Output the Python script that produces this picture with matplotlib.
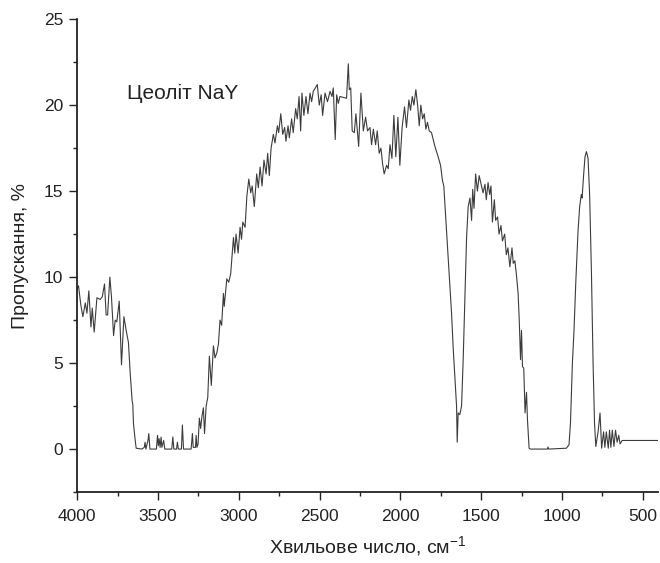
import numpy as np
import matplotlib
matplotlib.use("Agg")
import matplotlib.pyplot as plt
from matplotlib.ticker import MultipleLocator

plt.rcParams['font.family'] = ['Liberation Sans', 'DejaVu Sans']

# IR spectrum: wavenumber (cm-1) and transmittance (%)
wavenumber = [
    4000, 3992, 3978, 3965, 3950, 3940, 3928, 3915, 3907, 3895, 3878, 3858,
    3845, 3831, 3821, 3812, 3798, 3788, 3775, 3765, 3755, 3740, 3726, 3711,
    3697, 3683, 3672, 3660, 3656, 3652, 3641, 3635, 3600, 3585, 3580, 3575,
    3562, 3557, 3550, 3510, 3503, 3498, 3493, 3487, 3481, 3476, 3465, 3458,
    3415, 3408, 3402, 3385, 3380, 3374, 3355, 3349, 3342, 3295, 3287, 3282,
    3268, 3264, 3259, 3252, 3244, 3236, 3228, 3219, 3212, 3202, 3192, 3182,
    3170, 3157, 3147, 3136, 3126, 3116, 3106, 3095, 3090, 3074, 3062, 3050,
    3033, 3025, 3017, 3004, 2992, 2983, 2975, 2961, 2950, 2938, 2926, 2917,
    2904, 2889, 2879, 2868, 2856, 2844, 2831, 2821, 2811, 2800, 2786, 2776,
    2761, 2753, 2740, 2728, 2716, 2708, 2695, 2687, 2673, 2663, 2648, 2638,
    2627, 2617, 2609, 2597, 2584, 2572, 2559, 2549, 2539, 2526, 2514, 2502,
    2490, 2481, 2466, 2451, 2435, 2423, 2415, 2403, 2394, 2384, 2374, 2333,
    2322, 2316, 2307, 2298, 2285, 2275, 2258, 2244, 2229, 2215, 2203, 2188,
    2178, 2167, 2153, 2143, 2131, 2120, 2110, 2100, 2085, 2075, 2064, 2052,
    2040, 2028, 2015, 2003, 1989, 1974, 1962, 1947, 1937, 1926, 1916, 1904,
    1893, 1883, 1873, 1862, 1852, 1842, 1832, 1821, 1807, 1786, 1766, 1751,
    1739, 1731, 1718, 1710, 1693, 1683, 1673, 1661, 1652, 1648, 1642, 1632,
    1621, 1611, 1600, 1590, 1580, 1569, 1559, 1552, 1544, 1534, 1523, 1512,
    1498, 1488, 1476, 1468, 1457, 1447, 1439, 1430, 1418, 1410, 1398, 1389,
    1377, 1368, 1354, 1344, 1334, 1322, 1309, 1301, 1291, 1281, 1271, 1264,
    1256, 1250, 1244, 1236, 1228, 1219, 1213, 1203, 1195, 1090, 1086, 1082,
    972, 956, 947, 935, 925, 914, 900, 890, 880, 875, 865, 857,
    848, 838, 828, 817, 807, 798, 790, 776, 764, 754, 742, 734,
    725, 713, 705, 697, 688, 678, 668, 658, 648, 640, 627, 400,
]
transmittance = [
    9.3, 9.5, 8.4, 7.7, 8.5, 7.9, 9.2, 7.1, 8.2, 6.8, 8.8, 8.7,
    8.85, 9.6, 7.8, 7.8, 10.0, 8.85, 6.6, 7.5, 7.4, 8.6, 4.9, 7.7,
    6.9, 6.2, 4.4, 2.8, 2.6, 1.5, 0.5, 0.05, 0.0, 0.1, 0.4, 0.0,
    0.5, 0.9, 0.0, 0.0, 0.8, 0.2, 0.6, 0.1, 0.7, 0.1, 0.5, 0.0,
    0.0, 0.7, 0.0, 0.0, 0.4, 0.0, 0.0, 1.4, 0.0, 0.0, 0.9, 0.1,
    0.1, 0.8, 0.1, 0.3, 1.8, 1.2, 1.9, 2.4, 0.9, 2.5, 3.0, 5.4,
    3.7, 6.0, 5.3, 5.6, 6.1, 7.5, 7.2, 9.05, 8.3, 9.9, 9.7, 10.2,
    12.3, 11.4, 12.5, 11.4, 12.9, 12.2, 13.2, 12.9, 14.7, 15.7, 14.9, 15.3,
    14.1, 16.0, 15.2, 16.4, 15.3, 16.8, 16.0, 17.2, 15.9, 17.5, 18.3, 17.8,
    18.8, 18.4, 19.5, 18.3, 18.7, 17.9, 18.8, 18.1, 19.2, 18.4, 19.8, 19.2,
    20.5, 18.5, 20.7, 19.4, 20.5, 19.5, 20.7, 20.2, 20.8, 21.0, 21.2, 20.0,
    20.6, 19.4, 20.7, 20.2, 20.8, 20.5, 21.0, 18.0, 20.6, 20.1, 20.5, 20.4,
    22.4, 20.9, 21.0, 18.5, 18.4, 19.5, 17.6, 20.7, 18.5, 19.3, 18.5, 18.7,
    17.7, 18.6, 17.7, 18.5, 17.2, 17.5, 16.6, 16.0, 16.5, 16.3, 17.7, 16.9,
    19.4, 17.0, 19.3, 16.5, 18.7, 19.9, 18.7, 20.3, 19.7, 20.5, 20.0, 20.9,
    20.0, 18.8, 20.0, 19.2, 19.5, 18.6, 19.0, 18.5, 18.4, 17.6, 17.0, 16.5,
    15.6, 15.3, 13.3, 12.0, 9.5, 7.9, 5.9, 4.0, 2.5, 0.4, 2.1, 2.0,
    2.5, 5.2, 8.9, 12.3, 14.1, 14.6, 13.3, 15.1, 14.0, 16.0, 15.0, 15.9,
    15.3, 14.9, 15.4, 14.5, 15.5, 14.8, 15.3, 13.2, 14.5, 13.3, 13.5, 12.5,
    13.0, 12.1, 12.5, 11.3, 11.7, 10.6, 11.7, 10.8, 10.95, 10.1, 9.05, 7.5,
    5.2, 6.9, 4.8, 4.7, 2.1, 3.3, 1.7, 0.05, 0.0, 0.0, 0.12, 0.0,
    0.05, 0.25, 1.5, 5.0, 6.9, 9.7, 12.7, 14.1, 14.8, 14.6, 16.0, 17.0,
    17.3, 16.9, 14.7, 10.2, 5.0, 1.5, 0.15, 1.0, 2.1, 0.05, 1.0, 0.1,
    1.0, 0.05, 1.1, 0.1, 1.1, 0.15, 1.1, 0.4, 0.8, 0.3, 0.5, 0.5,
]

sample_label = "Цеоліт NaY"
x_label = "Хвильове число, см$^{\\mathregular{-1}}$"
y_label = "Пропускання, %"

fig = plt.figure(figsize=(6.6, 5.63), dpi=100)
ax = fig.add_axes([0.117, 0.126, 0.880, 0.840])

ax.plot(wavenumber, transmittance, color='#3c3c3c', lw=0.8)

ax.set_xlim(4000, 405)
ax.set_ylim(-2.5, 25)
ax.xaxis.set_major_locator(MultipleLocator(500))
ax.xaxis.set_minor_locator(MultipleLocator(250))
ax.yaxis.set_major_locator(MultipleLocator(5))
ax.yaxis.set_minor_locator(MultipleLocator(2.5))

for s in ['top', 'right']:
    ax.spines[s].set_visible(False)
for s in ['left', 'bottom']:
    ax.spines[s].set_linewidth(1.3)
    ax.spines[s].set_color('#222222')

ax.tick_params(which='major', direction='out', length=6, width=1.0,
               labelsize=12.5, colors='#222222')
ax.tick_params(axis='x', which='major', pad=6)
ax.tick_params(axis='y', which='major', pad=4)
ax.tick_params(which='minor', direction='out', length=3, width=1.0, colors='#222222')

ax.set_xlabel(x_label, fontsize=14, color='#222222', labelpad=8)
ax.set_ylabel(y_label, fontsize=14, color='#222222', labelpad=11)

ax.text(3690, 20.7, sample_label, fontsize=15, color='#222222', va='center', ha='left')

fig.savefig("out.png", dpi=100)
